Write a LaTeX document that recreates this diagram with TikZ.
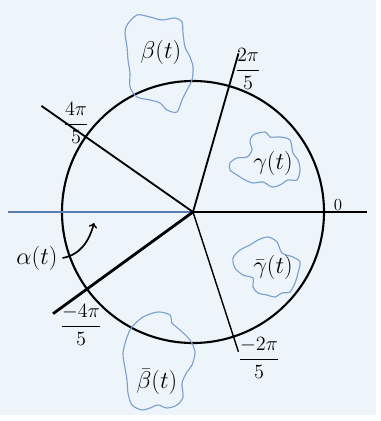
\documentclass[tikz,border=0pt]{standalone}
\usepackage{amsmath,amssymb}
\usepackage{tikz}
\usetikzlibrary{positioning}
\usepackage{xcolor}
\definecolor{paper}{RGB}{238,245,250}
\definecolor{pen}{RGB}{122,160,210}
\definecolor{penline}{RGB}{90,125,180}

\begin{document}
\begin{tikzpicture}[x=0.25mm, y=0.25mm, every node/.style={font=\Large},
    ray/.style={line width=1.3pt},
    blob/.style={pen, line width=0.8pt},
    lbl/.style={font=\LARGE}]
  \useasboundingbox (-193,-209) rectangle (188,212);
  \fill[white] (-193,-209) rectangle (188,212);
  \fill[paper] (-193,-203) rectangle (183,212);
  \coordinate (O) at (0,0);
  % circle and axis
  \draw[line width=1.5pt] (O) circle (131);
  \draw[penline, line width=1pt] (-185,0) -- (O);
  \draw[ray] (O) -- (174,0);
  % rays at multiples of 2pi/5
  \coordinate (r1) at (74:165);
  \coordinate (r2) at (145:185);
  \coordinate (r3) at (216:173);
  \coordinate (r4) at (-72:147);
  \draw[ray] (O) -- (r1);
  \draw[ray] (O) -- (r2);
  \draw[line width=2pt] (O) -- (r3);
  \draw[line width=1pt] (O) -- (r4);
  % angle labels
  \node[font=\large] (t0) at (145,7) {$0$};
  \node (t1) at (55,143) {$\dfrac{2\pi}{5}$};
  \node (t2) at (-117,89) {$\dfrac{4\pi}{5}$};
  \node (t3) at (-112,-113) {$\dfrac{-4\pi}{5}$};
  \node (t4) at (66,-146) {$\dfrac{-2\pi}{5}$};
  % blobs
  \draw[blob] plot[smooth cycle] coordinates {(-66,187) (-56,197) (-43,195) (-31,192)
    (-18,194) (-11,190) (-10,179) (-8,165) (-3,155) (0,145) (-1,132) (-6,122)
    (-11,112) (-16,100) (-26,102) (-33,109) (-43,112) (-56,115) (-63,125)
    (-63,139) (-65,152) (-66,165) (-68,179)};
  \draw[blob] plot[smooth cycle] coordinates {(60,77) (72,80) (77,75) (87,75) (97,72)
    (100,59) (105,52) (107,42) (104,32) (95,32) (87,27) (79,25) (70,30) (60,29)
    (52,32) (44,37) (37,42) (37,49) (44,54) (54,55) (59,62) (57,70)};
  \draw[blob] plot[smooth cycle] coordinates {(57,-33) (65,-28) (75,-25) (84,-30)
    (89,-41) (100,-45) (107,-50) (105,-61) (102,-71) (97,-80) (89,-81) (82,-85)
    (74,-83) (65,-81) (60,-75) (60,-66) (50,-63) (42,-56) (40,-46) (47,-38)};
  \draw[blob] plot[smooth cycle] coordinates {(-61,-115) (-50,-105) (-35,-100)
    (-23,-103) (-21,-111) (-13,-118) (-3,-128) (2,-140) (-1,-153) (-6,-160)
    (-11,-171) (-10,-185) (-16,-193) (-26,-196) (-35,-193) (-43,-196) (-51,-198)
    (-61,-193) (-65,-181) (-66,-168) (-68,-156) (-70,-141) (-66,-125)};
  % curve names
  \node[lbl] (beta) at (-32,160) {$\beta(t)$};
  \node[lbl] (gamma) at (80,49) {$\gamma(t)$};
  \node[lbl] (gammabar) at (80,-55) {$\bar{\gamma}(t)$};
  \node[lbl] (betabar) at (-36,-170) {$\bar{\beta}(t)$};
  \node[lbl] (alpha) at (-156,-46) {$\alpha(t)$};
  \coordinate (tip) at (-99,-11);
  \draw[->, line width=1.2pt] (alpha.east) to[out=10, in=-105] (tip);
\end{tikzpicture}
\end{document}
